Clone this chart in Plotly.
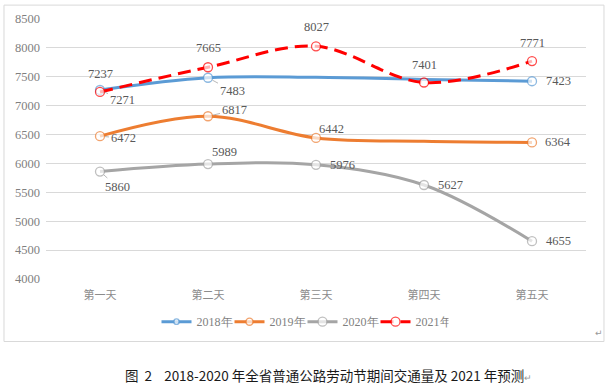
import plotly.graph_objects as go

categories = ["第一天", "第二天", "第三天", "第四天", "第五天"]
series_names = ["2018年", "2019年", "2020年", "2021年"]
v2018 = [7271, 7483, 7490, 7455, 7423]
v2019 = [6472, 6817, 6442, 6385, 6364]
v2020 = [5860, 5989, 5976, 5627, 4655]
v2021 = [7237, 7665, 8027, 7401, 7771]
# which points carry a visible marker and data label
shown2018 = [True, True, False, False, True]
shown2019 = [True, True, True, False, True]
shown2020 = [True, True, True, True, True]
shown2021 = [True, True, True, True, True]
y_ticks = [4000, 4500, 5000, 5500, 6000, 6500, 7000, 7500, 8000, 8500]

colors = ["#5B9BD5", "#ED7D31", "#A5A5A5", "#FF0000"]
dashes = ["solid", "solid", "solid", "13px,7px"]
all_vals = [v2018, v2019, v2020, v2021]
all_shown = [shown2018, shown2019, shown2020, shown2021]

# label offsets (px) per series/point, and whether a leader line is drawn
offsets = [
    [(22, 10, True), (24, 13, True), None, None, (26, 0, False)],
    [(23, 2, True), (26, -6, True), (15, -9, False), None, (26, 0, False)],
    [(17, 15, True), (16, -12, False), (26, 0, False), (26, 0, False), (26, 0, False)],
    [(0, -18, False), (0, -19, False), (0, -19, False), (0, -18, False), (0, -18, False)],
]

fig = go.Figure()
for name, vals, shown, col, dash in zip(series_names, all_vals, all_shown, colors, dashes):
    fig.add_trace(go.Scatter(
        x=categories, y=vals, name=name, mode="lines+markers",
        line=dict(color=col, width=3, dash=dash, shape="spline", smoothing=1.0),
        marker=dict(symbol="circle", size=[9 if s else 0 for s in shown],
                    color="white", line=dict(color=col, width=1.3)),
    ))

annotations = []
for vals, shown, offs in zip(all_vals, all_shown, offsets):
    for i, (c, v) in enumerate(zip(categories, vals)):
        if not shown[i] or offs[i] is None:
            continue
        ax, ay, leader = offs[i]
        annotations.append(dict(
            x=c, y=v, xref="x", yref="y", text=str(v), showarrow=True,
            ax=ax, ay=ay, arrowhead=0, arrowwidth=0.8, standoff=5,
            arrowcolor="#a6a6a6" if leader else "rgba(0,0,0,0)",
            font=dict(family="Liberation Serif", size=12.5, color="#595959"),
        ))

annotations.append(dict(
    x=0.523, y=-0.368, xref="paper", yref="paper", showarrow=False,
    xanchor="center", yanchor="middle",
    text='图&nbsp;&nbsp;2&nbsp;&nbsp;&nbsp;&nbsp;2018-2020 年全省普通公路劳动节期间交通量及 2021 年预测<span style="font-size:9px;color:#999">↵</span>',
    font=dict(family="Noto Sans CJK SC", size=13.5, color="#1a1a1a"),
))
annotations.append(dict(
    x=1.035, y=-0.235, xref="paper", yref="paper", showarrow=False,
    text="↵", font=dict(family="DejaVu Sans", size=9, color="#999999"),
))

fig.update_layout(
    width=613, height=391,
    margin=dict(l=46, r=27, t=17, b=112),
    paper_bgcolor="white", plot_bgcolor="white",
    showlegend=True,
    legend=dict(orientation="h", x=0.475, y=-0.164, xanchor="center", yanchor="middle",
                font=dict(family="Liberation Serif", size=12, color="#7f7f7f"),
                itemwidth=30, tracegroupgap=0, entrywidth=28, entrywidthmode="pixels"),
    xaxis=dict(type="category", range=[-0.5, 4.5], showgrid=False, showline=False,
               ticks="", ticklabelstandoff=8,
               tickfont=dict(family="Noto Sans CJK SC", size=11, color="#8c8c8c")),
    yaxis=dict(range=[4000, 8500], tickvals=y_ticks, showgrid=True, gridcolor="#d9d9d9",
               gridwidth=1, zeroline=False, showline=False, ticks="", ticklabelstandoff=5,
               tickfont=dict(family="Liberation Serif", size=12.5, color="#7f7f7f")),
    annotations=annotations,
    shapes=[dict(type="rect", xref="paper", yref="paper",
                 x0=-0.0778, x1=1.0333, y0=-0.2405, y1=1.0534,
                 line=dict(color="#d9d9d9", width=1), fillcolor="rgba(0,0,0,0)", layer="below")],
)

fig.write_html("out.html", config={"displayModeBar": False},
               post_script="document.body.style.margin='0';")
